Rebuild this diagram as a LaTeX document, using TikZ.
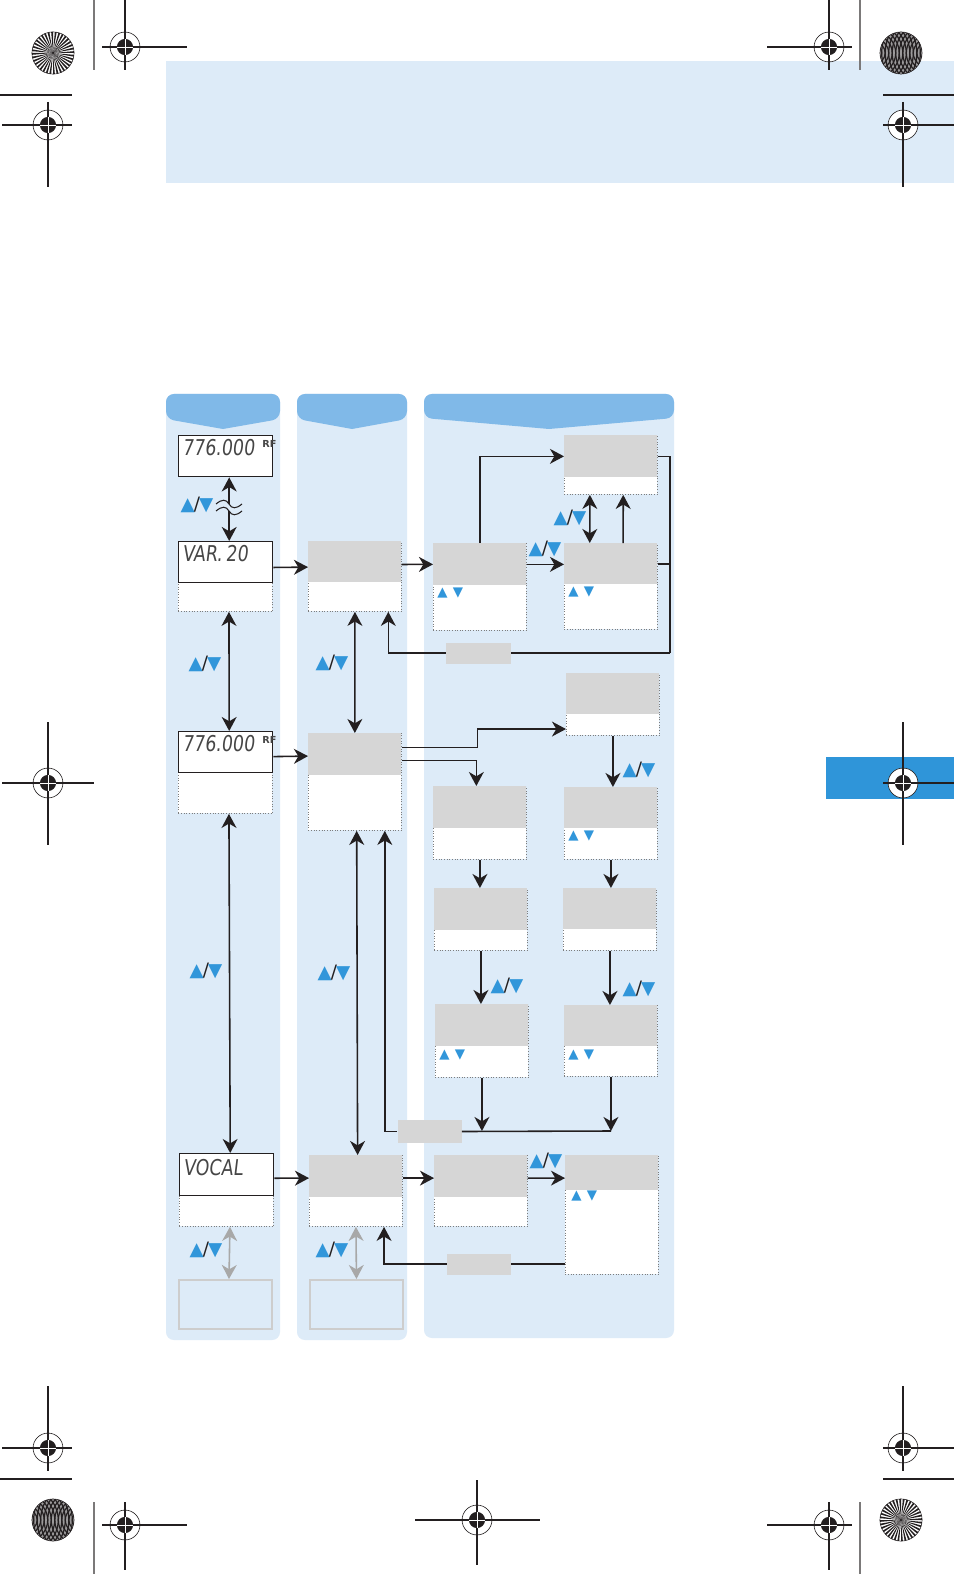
\documentclass[tikz,border=0pt]{standalone}
\usepackage{fontspec}
\usetikzlibrary{arrows.meta,positioning}
\newfontfamily\symfont{DejaVu Sans}
\newfontfamily\lcdfont[FakeSlant=0.12,FakeStretch=0.8]{DejaVu Sans}
\definecolor{pageblue}{RGB}{221,235,248}
\definecolor{headblue}{RGB}{128,185,232}
\definecolor{tabblue}{RGB}{47,149,217}
\definecolor{tri}{RGB}{49,150,218}
\definecolor{boxgray}{RGB}{214,214,214}
\definecolor{dotgray}{RGB}{125,125,125}
\definecolor{outgray}{RGB}{205,205,205}
\definecolor{arrgray}{RGB}{168,168,168}
\definecolor{ink}{RGB}{35,31,32}
\definecolor{lcdink}{RGB}{70,70,70}

\newcommand{\updn}{{\symfont\color{tri}▲}{\symfont\color{ink}\kern-0.5pt/\kern-0.5pt}{\symfont\color{tri}▼}}
\newcommand{\keyspair}{{\symfont\color{tri}▲\hspace{3pt}▼}}
% crop target: centre x,y; horizontal line #3..#4; vertical line #5..#6
\newcommand{\target}[6]{%
  \fill[white] (#1,#2) circle (8.5pt);
  \draw[ink, line width=0.35pt] (#1,#2) circle (8.5pt);
  \draw[ink, line width=0.6pt] (#3,#2) -- (#4,#2) (#1,#5) -- (#1,#6);
  \fill[ink] (#1,#2) circle (4.6pt);
  \draw[white, line width=0.5pt] ([xshift=-4.6pt]#1,#2) -- ([xshift=4.6pt]#1,#2)
    ([yshift=-4.6pt]#1,#2) -- ([yshift=4.6pt]#1,#2);
}
\newcommand{\starmark}[2]{%
  \foreach \a in {0,10,...,350}
    \fill[ink] (#1,#2) -- ++(\a:12pt) arc[start angle=\a, end angle=\a+5, radius=12pt] -- cycle;
  \draw[ink, line width=0.3pt] (#1,#2) circle (12pt);
}
\newcommand{\moire}[2]{%
  \begin{scope}
    \clip (#1,#2) circle (12pt);
    \fill[ink!45] (#1,#2) circle (12pt);
    \foreach \r in {2,4,...,28}{
      \draw[ink, line width=0.7pt] ([xshift=-15pt]#1,#2) circle (\r pt);
      \draw[ink, line width=0.7pt] ([xshift=15pt]#1,#2) circle (\r pt);
    }
  \end{scope}
  \draw[ink, line width=0.3pt] (#1,#2) circle (12pt);
}

\begin{document}
\begin{tikzpicture}[x=0.02cm, y=-0.02cm,
  arr/.style={-{Stealth[length=8pt,width=8.5pt,inset=2.5pt]}, line width=0.9pt, draw=ink},
  dblarr/.style={{Stealth[length=8pt,width=8.5pt,inset=2.5pt]}-{Stealth[length=8pt,width=8.5pt,inset=2.5pt]}, line width=0.9pt, draw=ink},
  line/.style={line width=0.9pt, draw=ink},
  lcdbox/.style={draw=ink, fill=white, line width=0.8pt, anchor=north west, inner sep=0, minimum width=1.88cm, minimum height=0.82cm},
  graybox/.style={fill=boxgray, anchor=north west, inner sep=0, minimum width=1.86cm, minimum height=0.84cm},
  dotbox/.style={draw=dotgray, densely dotted, line width=0.5pt, fill=white, anchor=north west, inner sep=0, minimum width=1.86cm},
  ghostbox/.style={draw=outgray, line width=1.1pt, anchor=north west, inner sep=0, minimum width=1.86cm, minimum height=0.98cm},
  lcdtext/.style={font=\lcdfont\fontsize{12.4}{12.4}\selectfont, text=lcdink, anchor=north west, inner sep=0},
  rftext/.style={font=\symfont\bfseries\fontsize{5.5}{5.5}\selectfont, text=lcdink, anchor=north west, inner sep=0},
  keys/.style={font=\fontsize{7.6}{7.6}\selectfont, anchor=west, inner sep=0},
  updown/.style={font=\fontsize{10.5}{10.5}\selectfont, inner sep=0},
  tag/.style={fill=boxgray, inner sep=0, minimum width=1.30cm, minimum height=0.42cm}]

\useasboundingbox (0,0) rectangle (954,1574);
\fill[white] (0,0) rectangle (954,1574);

% page furniture
\fill[pageblue] (166,61) rectangle (954,183);
\fill[tabblue] (826,757) rectangle (954,799);

\starmark{53}{53}
\draw[ink!60, line width=0.6pt] (94,0) -- (94,70);
\target{125}{47}{102}{187}{0}{70}
\draw[ink, line width=0.6pt] (0,95) -- (72,95);
\target{48}{125}{2}{72}{102}{187}
\moire{901}{53}
\draw[ink!60, line width=0.6pt] (860,0) -- (860,70);
\target{829}{47}{767}{852}{0}{70}
\draw[ink, line width=0.6pt] (883,95) -- (954,95);
\target{903}{125}{883}{954}{102}{187}
\target{48}{783}{2}{94}{722}{845}
\target{903}{783}{883}{954}{722}{845}
\target{48}{1448}{2}{72}{1386}{1471}
\draw[ink, line width=0.6pt] (0,1479) -- (72,1479);
\moire{53}{1520}
\draw[ink!60, line width=0.6pt] (94,1502) -- (94,1574);
\target{125}{1525}{102}{187}{1502}{1570}
\target{477}{1520}{415}{540}{1480}{1565}
\target{903}{1448}{883}{954}{1386}{1471}
\draw[ink, line width=0.6pt] (883,1479) -- (954,1479);
\starmark{901}{1520}
\draw[ink!60, line width=0.6pt] (860,1502) -- (860,1574);
\target{829}{1525}{767}{852}{1502}{1570}

% panels
\fill[pageblue, rounded corners=4.5pt] (166,394) rectangle (280,1340);
\fill[headblue] (223,429) [rounded corners=4.5pt] -- (166,419) -- (166,394) -- (280,394) -- (280,419) [sharp corners] -- cycle;
\fill[pageblue, rounded corners=4.5pt] (297,394) rectangle (407,1340);
\fill[headblue] (352,429) [rounded corners=4.5pt] -- (297,419) -- (297,394) -- (407,394) -- (407,419) [sharp corners] -- cycle;
\fill[pageblue, rounded corners=4.5pt] (424,394) rectangle (674,1338);
\fill[headblue] (549,429) [rounded corners=4.5pt] -- (424,418) -- (424,394) -- (674,394) -- (674,418) [sharp corners] -- cycle;

% column 1
\node[lcdbox] (d1) at (178,435) {};
\node[lcdtext] (d1-t) at (182,439) {776.000};
\node[rftext] (d1-rf) at (262,440) {RF};
\node[dotbox, minimum width=1.88cm, minimum height=1.40cm] (d2-d) at (178,541) {};
\node[lcdbox] (d2) at (178,541) {};
\node[lcdtext] (d2-t) at (182,545) {VAR.\,20};
\node[dotbox, minimum width=1.88cm, minimum height=1.64cm] (d3-d) at (178,731) {};
\node[lcdbox] (d3) at (178,731) {};
\node[lcdtext] (d3-t) at (182,735) {776.000};
\node[rftext] (d3-rf) at (262,736) {RF};
\node[dotbox, minimum width=1.88cm, minimum height=1.46cm] (d4-d) at (179,1153) {};
\node[lcdbox, minimum height=0.84cm] (d4) at (179,1153) {};
\node[lcdtext] (d4-t) at (183,1159) {VOCAL};
\node[ghostbox] (g1) at (178,1279) {};

% column 2
\node[dotbox, minimum height=1.40cm] (A-d) at (308,541) {};
\node[graybox, minimum height=0.82cm] (A) at (308,541) {};
\node[dotbox, minimum height=1.94cm] (B-d) at (308,733) {};
\node[graybox] (B) at (308,733) {};
\node[dotbox, minimum height=1.42cm] (C-d) at (309,1155) {};
\node[graybox] (C) at (309,1155) {};
\node[ghostbox] (g2) at (309,1279) {};

% column 3 and 4
\node[dotbox, minimum height=1.18cm] (T1-d) at (564,435) {};
\node[graybox] (T1) at (564,435) {};
\node[dotbox, minimum height=1.74cm] (L1-d) at (433,543) {};
\node[graybox] (L1) at (433,543) {};
\node[keys] (L1-k) at (437,593) {\keyspair};
\node[dotbox, minimum height=1.72cm] (R1-d) at (564,543) {};
\node[graybox, minimum height=0.82cm] (R1) at (564,543) {};
\node[keys] (R1-k) at (568,592) {\keyspair};
\node[tag] (tagA) at (478.5,653) {};

\node[dotbox, minimum height=1.24cm] (T2-d) at (566,673) {};
\node[graybox, minimum height=0.82cm] (T2) at (566,673) {};
\node[dotbox, minimum height=1.46cm] (L2-d) at (433,786) {};
\node[graybox] (L2) at (433,786) {};
\node[dotbox, minimum height=1.44cm] (R2-d) at (564,787) {};
\node[graybox, minimum height=0.82cm] (R2) at (564,787) {};
\node[keys] (R2-k) at (568,836) {\keyspair};
\node[dotbox, minimum height=1.24cm] (L3-d) at (434,888) {};
\node[graybox] (L3) at (434,888) {};
\node[dotbox, minimum height=1.24cm] (R3-d) at (563,888) {};
\node[graybox, minimum height=0.82cm] (R3) at (563,888) {};
\node[dotbox, minimum height=1.46cm] (L4-d) at (435,1004) {};
\node[graybox] (L4) at (435,1004) {};
\node[keys] (L4-k) at (439,1055) {\keyspair};
\node[dotbox, minimum height=1.42cm] (R4-d) at (564,1005) {};
\node[graybox, minimum height=0.82cm] (R4) at (564,1005) {};
\node[keys] (R4-k) at (568,1055) {\keyspair};
\node[tag, minimum width=1.28cm, minimum height=0.46cm] (tagB) at (429.5,1131.5) {};

\node[dotbox, minimum height=1.42cm] (L5-d) at (434,1155) {};
\node[graybox] (L5) at (434,1155) {};
\node[dotbox, minimum height=2.38cm] (R5-d) at (565,1155) {};
\node[graybox, minimum height=0.70cm] (R5) at (565,1155) {};
\node[keys] (R5-k) at (571,1196) {\keyspair};
\node[tag, minimum width=1.28cm] (tagC) at (479,1264) {};

% up/down key labels
\node[updown] (ud1) at (197,505) {\updn};
\node[updown] (ud2) at (205,664) {\updn};
\node[updown] (ud3) at (206,971) {\updn};
\node[updown] (ud4) at (206,1250) {\updn};
\node[updown] (ud5) at (332,663) {\updn};
\node[updown] (ud6) at (334,973) {\updn};
\node[updown] (ud7) at (332,1250) {\updn};
\node[updown] (ud8) at (570,518) {\updn};
\node[updown] (ud9) at (545,549) {\updn};
\node[updown] (ud10) at (639,770) {\updn};
\node[updown] (ud11) at (507,986) {\updn};
\node[updown] (ud12) at (639,989) {\updn};
\node[updown] (ud13) at (546,1161) {\updn};

% column 1 links
\draw[dblarr] ([xshift=2pt]d1.south) -- ([xshift=2pt]d2.north);
\fill[pageblue] (217,504) rectangle (242,511);
\draw[ink, line width=0.6pt] (216,504) .. controls (222,499) and (226,499) .. (229,504) .. controls (232,509) and (236,509) .. (242,504);
\draw[ink, line width=0.6pt] (216,511) .. controls (222,506) and (226,506) .. (229,511) .. controls (232,516) and (236,516) .. (242,511);
\draw[dblarr] ([xshift=2pt]d2-d.south) -- ([xshift=2pt]d3.north);
\draw[dblarr] ([xshift=2pt]d3-d.south) -- ([xshift=2pt]d4.north);
\draw[dblarr, draw=arrgray] ([xshift=2pt]d4-d.south) -- ([xshift=2pt]g1.north);

% into column 2
\draw[arr] ([yshift=-3pt]d2.east) -- ([yshift=-3pt]A.west);
\draw[arr] ([yshift=-2.5pt]d3.east) -- ([yshift=-1pt]B.west);
\draw[arr] ([yshift=-2pt]d4.east) -- ([yshift=-1pt]C.west);
\draw[dblarr] (A-d.south) -- (B.north);
\draw[dblarr] ([xshift=1pt]B-d.south) -- ([xshift=1pt]C.north);
\draw[dblarr, draw=arrgray] (C-d.south) -- (g2.north);

% top branch
\draw[arr] ([yshift=-1.5pt]A.east) -- (L1.west);
\draw[arr] (L1.north) |- (T1.west);
\draw[arr] (L1.east) -- (L1.east -| R1.west);
\draw[dblarr] ([xshift=-12pt]T1-d.south) -- ([xshift=-12pt]R1.north);
\draw[arr] ([xshift=7pt]R1.north) -- ([xshift=7pt]T1-d.south);
\coordinate (loopA) at (670,653);
\draw[line] (T1.east) -| (loopA);
\draw[line] (R1.east) -- (R1.east -| loopA);
\draw[line] (loopA) -- (tagA.east);
\draw[arr] (tagA.west) -| ([xshift=19pt]A-d.south);

% middle branch
\draw[arr] ([yshift=4pt]B.east) -- ++(76,0) |- ([yshift=-14pt]T2-d.west);
\draw[arr] ([yshift=-3.5pt]B.east) -| ([xshift=-2pt]L2.north);
\draw[arr] (T2-d.south) -- (T2-d.south |- R2.north);
\draw[arr] (L2-d.south) -- (L2-d.south |- L3.north);
\draw[arr] (R2-d.south) -- (R2-d.south |- R3.north);
\draw[arr] (L3-d.south) -- (L3-d.south |- L4.north);
\draw[arr] (R3-d.south) -- (R3-d.south |- R4.north);
\coordinate (joinB) at (611,1131);
\draw[arr] (L4-d.south) -- (L4-d.south |- joinB);
\draw[arr] (R4-d.south) -- (R4-d.south |- joinB);
\draw[line] (joinB) -- (tagB.east);
\draw[arr] (tagB.west) -| ([xshift=17pt]B-d.south);

% bottom branch
\draw[arr] ([yshift=-1pt]C.east) -- ([yshift=-1pt]L5.west);
\draw[arr] ([yshift=-1pt]L5.east) -- ([yshift=-3pt]R5.west);
\coordinate (retC) at ([yshift=-28pt]R5-d.west);
\draw[line] (retC) -- (retC -| tagC.east);
\draw[arr] (tagC.west) -| ([xshift=16pt]C-d.south);
\end{tikzpicture}
\end{document}
